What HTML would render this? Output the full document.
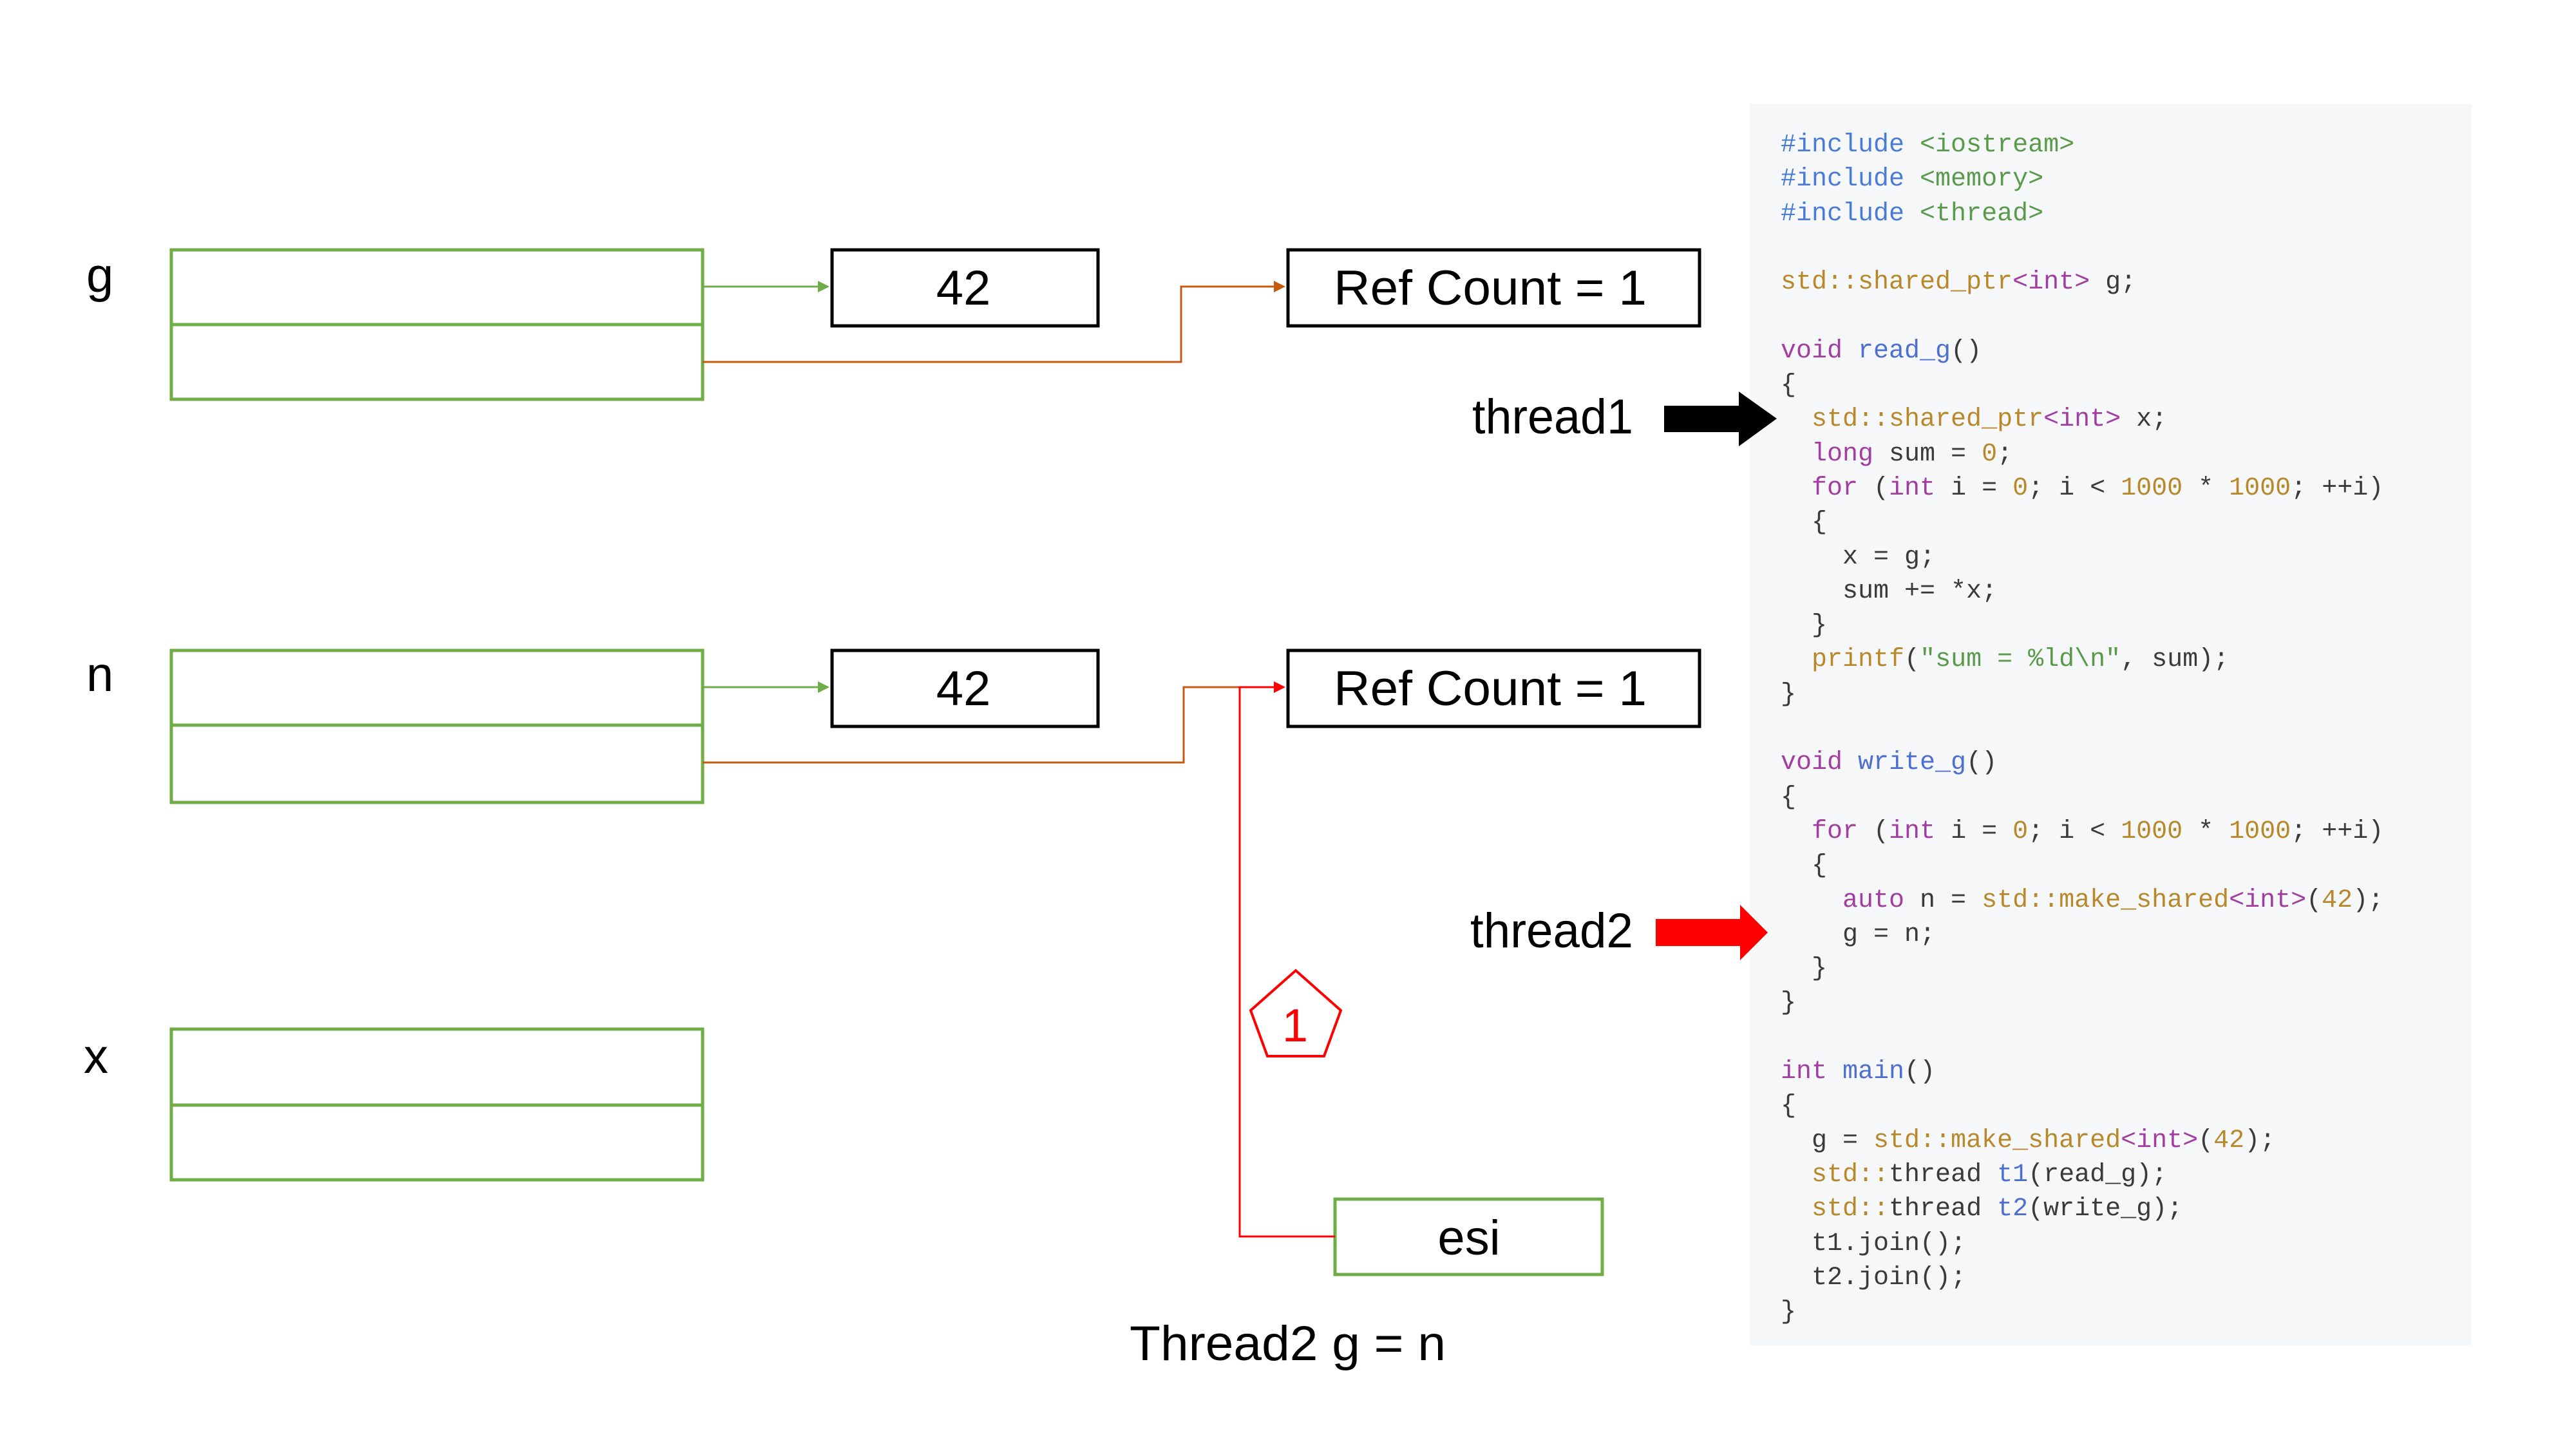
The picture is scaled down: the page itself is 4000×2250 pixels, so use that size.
<!DOCTYPE html>
<html><head><meta charset="utf-8"><style>
html,body{margin:0;padding:0;background:#fff;}
body{width:4000px;height:2250px;position:relative;overflow:hidden;}
svg{position:absolute;left:0;top:0;}
.code{position:absolute;left:2717px;top:161px;width:1121px;height:1928px;background:#f5f7f9;}
pre{position:absolute;left:2765px;top:199px;margin:0;font-family:"Liberation Mono",monospace;font-size:40px;line-height:53.3px;color:#3a3a3a;}
.k{color:#a33ea1}.f{color:#4f6fd0}.s{color:#b8892a}.n{color:#b8892a}.g{color:#5a9a4a}.p{color:#4a7cd6}
</style></head><body>
<div class="code"></div>
<pre><span class="p">#include</span> <span class="g">&lt;iostream&gt;</span>
<span class="p">#include</span> <span class="g">&lt;memory&gt;</span>
<span class="p">#include</span> <span class="g">&lt;thread&gt;</span>

<span class="s">std::shared_ptr</span><span class="k">&lt;int&gt;</span> g;

<span class="k">void</span> <span class="f">read_g</span>()
{
  <span class="s">std::shared_ptr</span><span class="k">&lt;int&gt;</span> x;
  <span class="k">long</span> sum = <span class="n">0</span>;
  <span class="k">for</span> (<span class="k">int</span> i = <span class="n">0</span>; i &lt; <span class="n">1000</span> * <span class="n">1000</span>; ++i)
  {
    x = g;
    sum += *x;
  }
  <span class="s">printf</span>(<span class="g">"sum = %ld\n"</span>, sum);
}

<span class="k">void</span> <span class="f">write_g</span>()
{
  <span class="k">for</span> (<span class="k">int</span> i = <span class="n">0</span>; i &lt; <span class="n">1000</span> * <span class="n">1000</span>; ++i)
  {
    <span class="k">auto</span> n = <span class="s">std::make_shared</span><span class="k">&lt;int&gt;</span>(<span class="n">42</span>);
    g = n;
  }
}

<span class="k">int</span> <span class="f">main</span>()
{
  g = <span class="s">std::make_shared</span><span class="k">&lt;int&gt;</span>(<span class="n">42</span>);
  <span class="s">std::</span>thread <span class="f">t1</span>(read_g);
  <span class="s">std::</span>thread <span class="f">t2</span>(write_g);
  t1.join();
  t2.join();
}</pre>
<svg width="4000" height="2250" viewBox="0 0 4000 2250" font-family="Liberation Sans, sans-serif">
<defs>
<marker id="ag" markerWidth="6" markerHeight="6" refX="5" refY="3" orient="auto" markerUnits="strokeWidth"><path d="M0,0 L6,3 L0,6z" fill="#70ad47"/></marker>
<marker id="ao" markerWidth="6" markerHeight="6" refX="5" refY="3" orient="auto" markerUnits="strokeWidth"><path d="M0,0 L6,3 L0,6z" fill="#c55a11"/></marker>
<marker id="ar" markerWidth="6" markerHeight="6" refX="5" refY="3" orient="auto" markerUnits="strokeWidth"><path d="M0,0 L6,3 L0,6z" fill="#ff0000"/></marker>
</defs>
<g fill="none" stroke="#70ad47" stroke-width="5">
<rect x="266" y="388" width="825" height="232"/><line x1="266" y1="504" x2="1091" y2="504"/>
<rect x="266" y="1010" width="825" height="236"/><line x1="266" y1="1126" x2="1091" y2="1126"/>
<rect x="266" y="1598" width="825" height="234"/><line x1="266" y1="1716" x2="1091" y2="1716"/>
<rect x="2073" y="1862" width="415" height="117"/>
</g>
<g fill="none" stroke="#000" stroke-width="5">
<rect x="1292" y="388" width="413" height="118"/>
<rect x="2000" y="388" width="639" height="118"/>
<rect x="1292" y="1010" width="413" height="118"/>
<rect x="2000" y="1010" width="639" height="118"/>
</g>
<g stroke-width="3" fill="none">
<line x1="1091" y1="445" x2="1285" y2="445" stroke="#70ad47" marker-end="url(#ag)"/>
<polyline points="1091,562 1834,562 1834,445 1993,445" stroke="#c55a11" marker-end="url(#ao)"/>
<line x1="1091" y1="1067" x2="1285" y2="1067" stroke="#70ad47" marker-end="url(#ag)"/>
<polyline points="1091,1184 1838,1184 1838,1067 1925,1067" stroke="#c55a11"/>
<polyline points="2073,1920 1925,1920 1925,1067 1993,1067" stroke="#ff0000" marker-end="url(#ar)"/>
<polygon points="2012,1507 2082,1569 2056,1640 1968,1640 1942,1569" stroke="#ff0000" stroke-width="4"/>
</g>
<polygon points="2584,630 2700,630 2700,608 2759,650 2700,693 2700,671 2584,671" fill="#000"/>
<polygon points="2571,1427 2702,1427 2702,1405 2745,1448 2702,1491 2702,1469 2571,1469" fill="#ff0000"/>
<g font-size="76" fill="#000">
<text x="134" y="453">g</text>
<text x="134" y="1073">n</text>
<text x="130" y="1666">x</text>
<text x="1496" y="473" text-anchor="middle">42</text>
<text x="1496" y="1095" text-anchor="middle">42</text>
<text x="2071" y="473" textLength="486" lengthAdjust="spacingAndGlyphs">Ref Count = 1</text>
<text x="2071" y="1095" textLength="486" lengthAdjust="spacingAndGlyphs">Ref Count = 1</text>
<text x="2286" y="673" textLength="250" lengthAdjust="spacingAndGlyphs">thread1</text>
<text x="2283" y="1471" textLength="253" lengthAdjust="spacingAndGlyphs">thread2</text>
<text x="2281" y="1948" text-anchor="middle">esi</text>
<text x="1754" y="2112" textLength="491" lengthAdjust="spacingAndGlyphs">Thread2 g = n</text>
<text x="2011" y="1617" text-anchor="middle" fill="#ff0000" font-size="72">1</text>
</g>
</svg>
</body></html>
